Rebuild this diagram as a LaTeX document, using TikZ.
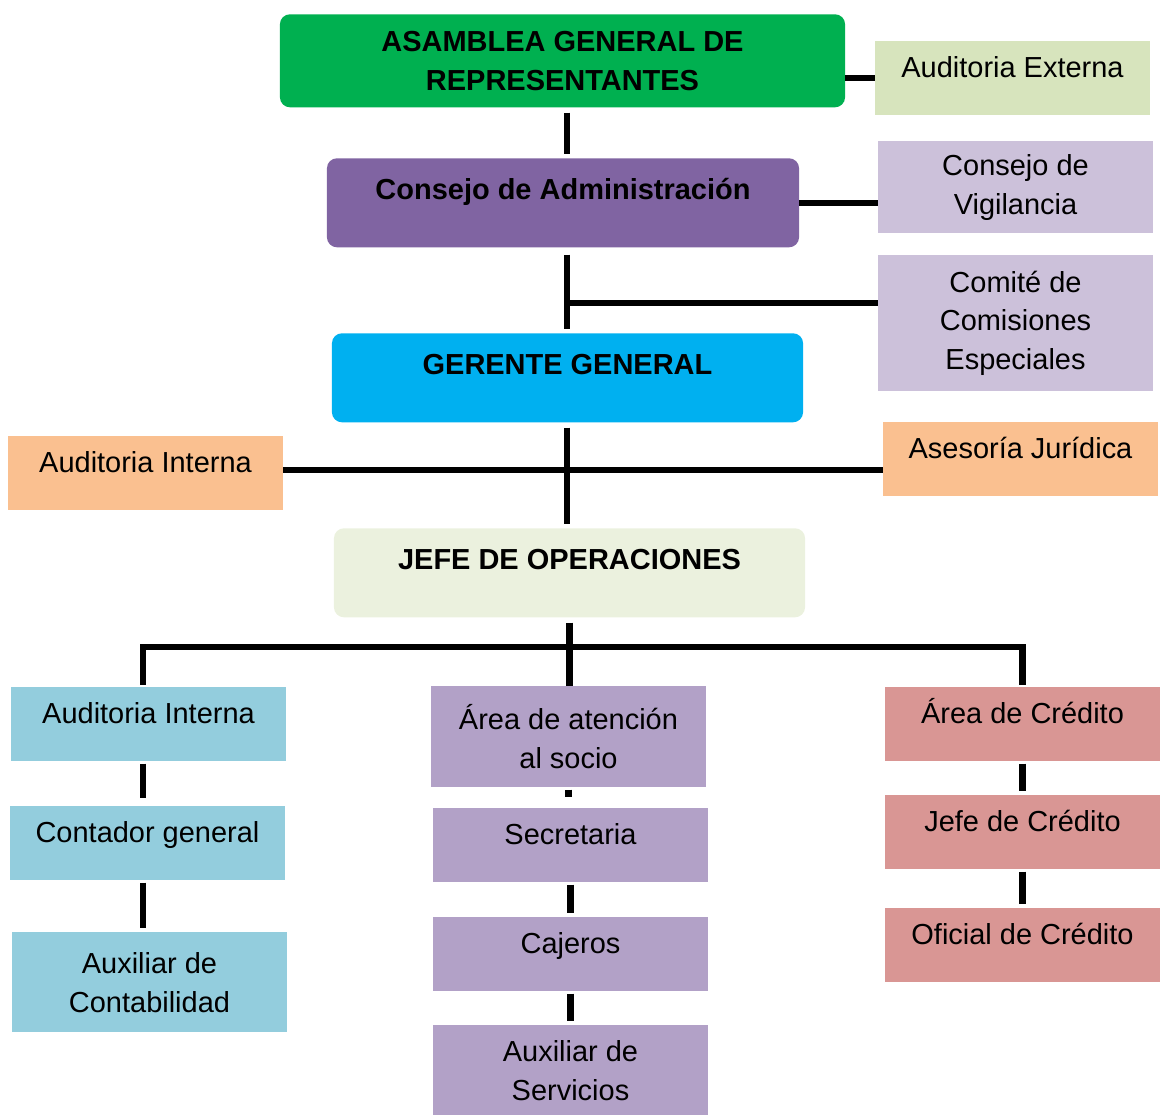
\documentclass[tikz,border=0pt]{standalone}
\usepackage{fontspec}
\setmainfont{Liberation Sans}
\usepackage{xcolor}

\definecolor{cAsamblea}{HTML}{00B050}
\definecolor{cExterna}{HTML}{D7E4BD}
\definecolor{cConsejo}{HTML}{8064A2}
\definecolor{cLila}{HTML}{CCC1DA}
\definecolor{cGerente}{HTML}{00B0F0}
\definecolor{cNaranja}{HTML}{FAC090}
\definecolor{cJefe}{HTML}{EBF1DE}
\definecolor{cCeleste}{HTML}{93CDDD}
\definecolor{cMorado}{HTML}{B2A1C7}
\definecolor{cRosa}{HTML}{D99694}

\begin{document}
\begin{tikzpicture}[x=0.025cm, y=-0.025cm,
    unitbox/.style={inner sep=0pt, align=center, anchor=north, minimum width=6.875cm,
        font=\fontsize{20.6}{27.7}\selectfont},
    headbox/.style={unitbox, minimum width=11.775cm, rounded corners=0.25cm,
        font=\fontsize{20.6}{27.7}\selectfont\bfseries},
    oneline/.style={text height=0.9cm, text depth=0.95cm},
    headline/.style={text height=1.025cm, text depth=1.2cm},
    link/.style={line width=4.5pt},
    stub/.style={link, shorten <=1.5pt, shorten >=2.5pt}]
    \useasboundingbox (0,0) rectangle (1160,1115);

    % upper levels
    \node[headbox, fill=cAsamblea, minimum width=14.125cm, minimum height=2.325cm] (asamblea) at (562.5,14) {ASAMBLEA GENERAL DE\\REPRESENTANTES};
    \node[unitbox, oneline, fill=cExterna] (externa) at (1012.5,41) {Auditoria Externa};
    \node[headbox, headline, fill=cConsejo, minimum width=11.8cm] (consejo) at (563,158) {Consejo de Administración};
    \node[unitbox, fill=cLila, minimum height=2.3cm] (vigilancia) at (1015.5,141) {Consejo de\\Vigilancia};
    \node[unitbox, fill=cLila, minimum height=3.4cm] (comite) at (1015.5,255) {Comité de\\Comisiones\\Especiales};
    \node[headbox, headline, fill=cGerente] (gerente) at (567.5,333) {GERENTE GENERAL};
    \node[unitbox, oneline, fill=cNaranja] (interna) at (145.5,436) {Auditoria Interna};
    \node[unitbox, oneline, fill=cNaranja] (juridica) at (1020.5,422) {Asesoría Jurídica};
    \node[headbox, headline, fill=cJefe] (jefe) at (569.5,528) {JEFE DE OPERACIONES};

    % three columns
    \node[unitbox, oneline, fill=cCeleste] (auditoria) at (148.5,687) {Auditoria Interna};
    \node[unitbox, oneline, fill=cCeleste] (contador) at (147.5,806) {Contador general};
    \node[unitbox, fill=cCeleste, minimum height=2.5cm] (auxcont) at (149.5,932) {Auxiliar de\\Contabilidad};
    \node[unitbox, fill=cMorado, minimum height=2.525cm] (atencion) at (568.5,686) {Área de atención\\al socio};
    \node[unitbox, oneline, fill=cMorado] (secretaria) at (570.5,808) {Secretaria};
    \node[unitbox, oneline, fill=cMorado] (cajeros) at (570.5,917) {Cajeros};
    \node[unitbox, fill=cMorado, minimum height=2.25cm] (auxserv) at (570.5,1025) {Auxiliar de\\Servicios};
    \node[unitbox, oneline, fill=cRosa] (credito) at (1022.5,687) {Área de Crédito};
    \node[unitbox, oneline, fill=cRosa] (jefecred) at (1022.5,795) {Jefe de Crédito};
    \node[unitbox, oneline, fill=cRosa] (oficial) at (1022.5,908) {Oficial de Crédito};

    % connectors
    \coordinate (trunk) at (567,0);
    \coordinate (b1) at (567,303);
    \coordinate (b2) at (567,470);
    \coordinate (b3) at (569,647);
    \coordinate (leftcol) at (143,0);
    \draw[link] (externa.west) -- (externa.west -| asamblea.east);
    \draw[link] (consejo.east) -- (consejo.east -| vigilancia.west);
    \draw[stub, shorten <=3.5pt] (asamblea.south -| trunk) -- (consejo.north -| trunk);
    \draw[stub, shorten <=5pt] (consejo.south -| trunk) -- (gerente.north -| trunk);
    \draw[link] (b1) -- (b1 -| comite.west);
    \draw[stub, shorten <=3.5pt] (gerente.south -| trunk) -- (jefe.north -| trunk);
    \draw[link] (b2 -| interna.east) -- (b2 -| juridica.west);
    \draw[stub, shorten <=3.5pt, shorten >=0pt] (jefe.south) -- (jefe.south |- atencion.north);
    \draw[link, line join=miter, shorten <=1.5pt, shorten >=1.5pt] (auditoria.north -| leftcol) -- (b3 -| leftcol) -- (credito.north |- b3) -- (credito.north);

    \draw[stub, shorten >=6pt] (auditoria.south -| leftcol) -- (contador.north -| leftcol);
    \draw[stub] (contador.south -| leftcol) -- (auxcont.north -| leftcol);
    \draw[stub, shorten >=7.8pt] (atencion.south) -- (atencion.south |- secretaria.north);
    \draw[stub] (secretaria.south) -- (cajeros.north);
    \draw[stub] (cajeros.south) -- (auxserv.north);
    \draw[stub] (credito.south) -- (jefecred.north);
    \draw[stub] (jefecred.south) -- (oficial.north);
\end{tikzpicture}
\end{document}
